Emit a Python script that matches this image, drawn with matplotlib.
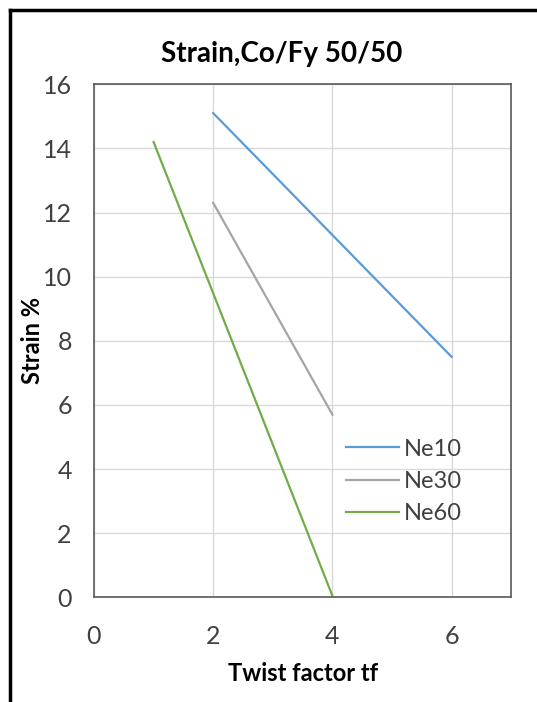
import matplotlib
matplotlib.use("Agg")
from matplotlib import pyplot as plt
from matplotlib.lines import Line2D

plt.rcParams['font.family'] = ['Lato', 'DejaVu Sans']

# data
tf_ne10 = [2, 6]
strain_ne10 = [15.1, 7.5]
tf_ne30 = [2, 4]
strain_ne30 = [12.3, 5.7]
tf_ne60 = [1, 4]
strain_ne60 = [14.2, 0.05]

xticks = [0, 2, 4, 6]
yticks = [0, 2, 4, 6, 8, 10, 12, 14, 16]

fig = plt.figure(figsize=(5.37, 7.02), dpi=100)
ax = fig.add_axes([0.175, 0.149, 0.777, 0.731])

ax.plot(tf_ne10, strain_ne10, color='#5b9bd5', lw=1.6, label='Ne10')
ax.plot(tf_ne30, strain_ne30, color='#a5a5a5', lw=1.6, label='Ne30')
ax.plot(tf_ne60, strain_ne60, color='#70ad47', lw=1.6, label='Ne60')

ax.set_xlim(0, 7)
ax.set_ylim(0, 16)
ax.set_xticks(xticks)
ax.set_yticks(yticks)
ax.tick_params(length=0, labelsize=18, colors='#404040')
ax.tick_params(axis='x', pad=20)
ax.tick_params(axis='y', pad=16)
ax.grid(True, color='#d9d9d9', lw=1)
ax.set_axisbelow(True)
for s in ax.spines.values():
    s.set_color('#595959')
    s.set_linewidth(1.2)

ax.set_title('Strain,Co/Fy 50/50', fontsize=20, fontweight='bold', pad=16, x=0.45)
ax.set_xlabel('Twist factor tf', fontsize=17, fontweight='bold', labelpad=10)
ax.set_ylabel('Strain %', fontsize=17, fontweight='bold')
ax.yaxis.set_label_coords(-0.12, 0.5)

ax.legend(loc='center left', bbox_to_anchor=(0.576, 0.226), frameon=False, fontsize=17,
          borderpad=0, handlelength=2.25, handletextpad=0.2, labelspacing=0.48,
          labelcolor='#404040')

# frame of the cropped picture (top and left edges)
fig.add_artist(Line2D([0.019, 0.019], [0, 0.986], color='black', lw=2.5))
fig.add_artist(Line2D([0.019, 1.0], [0.986, 0.986], color='black', lw=2.5))

fig.savefig('out.png', dpi=100)
